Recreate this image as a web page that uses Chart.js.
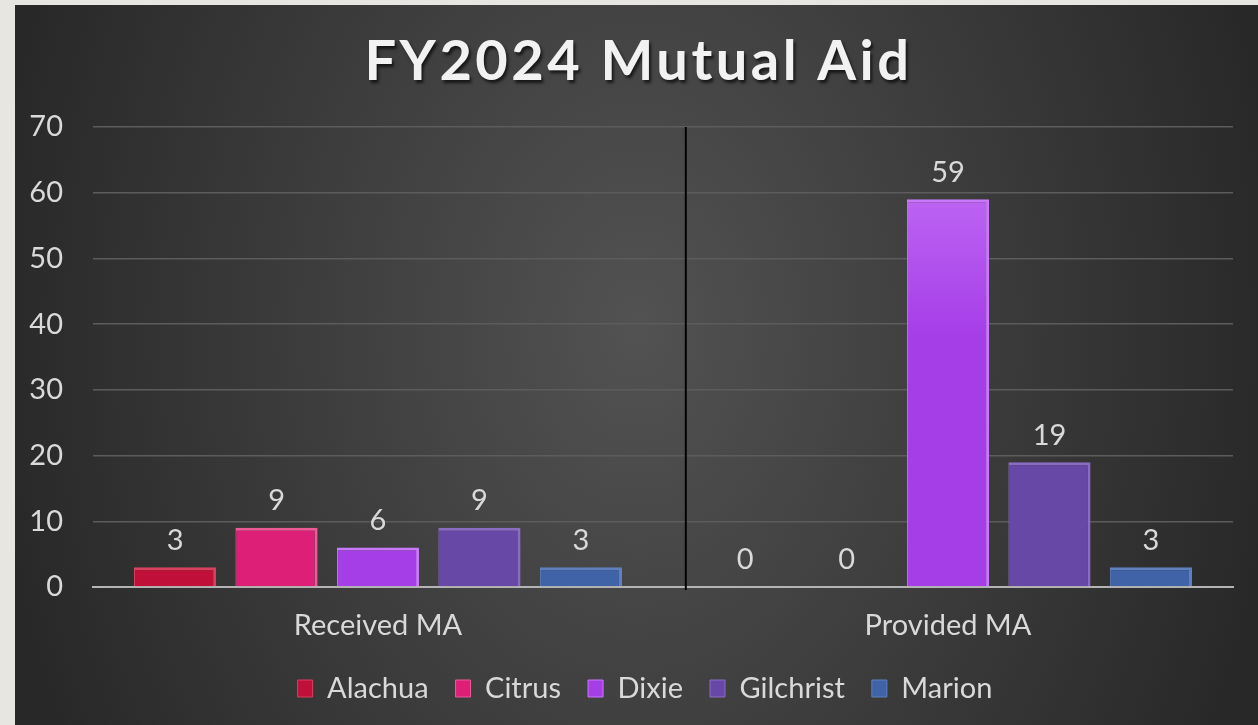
<!DOCTYPE html>
<html>
<head>
<meta charset="utf-8">
<script src="https://cdn.jsdelivr.net/npm/chart.js@4"></script>
<style>
    html, body { margin: 0; padding: 0; background: #e8e6e1; }
    #frame {
        position: absolute; left: 15px; top: 5px; width: 1243px; height: 720px;
        background: radial-gradient(650px 900px at 50% 45%, #525252 0%, #282828 100%);
    }
    #frame canvas { display: block; }
</style>
</head>
<body>
<div id="frame"><canvas id="maChart" width="1243" height="720"></canvas></div>
<script>
const chartTitle = 'FY2024 Mutual Aid';
const categories = ['Received MA', 'Provided MA'];
const counties = ['Alachua', 'Citrus', 'Dixie', 'Gilchrist', 'Marion'];
const alachua = [3, 0];
const citrus = [9, 0];
const dixie = [6, 59];
const gilchrist = [9, 19];
const marion = [3, 3];
const yTicks = [0, 10, 20, 30, 40, 50, 60, 70];

const seriesValues = [alachua, citrus, dixie, gilchrist, marion];
// main colour, highlight colour
const palette = [
    ['#c0103a', '#d8405e'],
    ['#de1f78', '#ec5a98'],
    ['#a63ee8', '#c878f8'],
    ['#6848a6', '#8a6cc4'],
    ['#4062a6', '#5f80c0']
];
const DIVIDER_AT = 0.54; // in category units, between the two groups
const LEGEND_SHIFT = 21; // legend sits a little right of centre

const textColor = '#d9d9d9';
const fontFamily = 'Lato, "Open Sans", sans-serif';
const fontSize = 29;

const barFill = (i) => (ctx) => {
    const area = ctx.chart.chartArea;
    if (!area) return palette[i][0];
    const g = ctx.chart.ctx.createLinearGradient(0, area.top, 0, area.bottom);
    g.addColorStop(0, palette[i][1]);
    g.addColorStop(0.45, palette[i][0]);
    g.addColorStop(1, palette[i][0]);
    return g;
};

const titlePlugin = {
    id: 'fancyTitle',
    afterDraw(chart) {
        const c = chart.ctx;
        c.save();
        c.font = 'bold 56px ' + fontFamily;
        c.letterSpacing = '3.5px';
        c.textAlign = 'center';
        c.textBaseline = 'alphabetic';
        c.shadowColor = 'rgba(0,0,0,0.65)';
        c.shadowOffsetX = 2;
        c.shadowOffsetY = 3;
        c.shadowBlur = 3;
        c.fillStyle = '#f2f2f2';
        c.fillText(chartTitle, chart.width / 2 + 2, chart.chartArea.top - 47);
        c.restore();
    }
};

const legendNudge = {
    id: 'legendNudge',
    afterLayout(chart) {
        if (chart.legend) {
            chart.legend.left += LEGEND_SHIFT;
            chart.legend.right += LEGEND_SHIFT;
        }
    }
};

const dividerPlugin = {
    id: 'divider',
    beforeDatasetsDraw(chart) {
        const x = chart.scales.x;
        const px = x.getPixelForValue(DIVIDER_AT);
        const c = chart.ctx;
        c.save();
        c.strokeStyle = '#000000';
        c.lineWidth = 2;
        c.beginPath();
        c.moveTo(px, chart.chartArea.top);
        c.lineTo(px, chart.chartArea.bottom + 3);
        c.stroke();
        c.restore();
    }
};

const valueLabels = {
    id: 'valueLabels',
    afterDatasetsDraw(chart) {
        const c = chart.ctx;
        c.save();
        c.font = fontSize + 'px ' + fontFamily;
        c.fillStyle = textColor;
        c.textAlign = 'center';
        c.textBaseline = 'middle';
        chart.data.datasets.forEach((ds, di) => {
            chart.getDatasetMeta(di).data.forEach((bar, i) => {
                c.fillText(String(ds.data[i]), bar.x, bar.y - 27);
            });
        });
        c.restore();
    }
};

const datasets = counties.map((name, i) => ({
    label: name,
    data: seriesValues[i],
    backgroundColor: barFill(i),
    borderColor: palette[i][1],
    borderWidth: { top: 3, right: 3, left: 1, bottom: 0 },
    borderSkipped: false,
    categoryPercentage: 0.89,
    barPercentage: 0.81
}));

new Chart(document.getElementById('maChart'), {
    type: 'bar',
    data: { labels: categories, datasets: datasets },
    options: {
        responsive: false,
        animation: false,
        layout: { padding: { top: 122, right: 25, left: 0, bottom: 12 } },
        scales: {
            x: {
                grid: { display: false, drawTicks: false },
                border: { display: true, color: '#b4b4b4', width: 2 },
                ticks: { color: textColor, font: { family: fontFamily, size: fontSize }, padding: 21 },
                afterFit: (s) => { s.height = 60; }
            },
            y: {
                min: 0, max: 70,
                afterBuildTicks: (s) => { s.ticks = yTicks.map(v => ({ value: v })); },
                grid: { color: '#5c5c5c', lineWidth: 1.5, drawTicks: false },
                border: { display: false },
                ticks: { color: textColor, font: { family: fontFamily, size: fontSize }, padding: 30 },
                afterFit: (s) => { s.width = 78; }
            }
        },
        plugins: {
            title: { display: false },
            tooltip: { enabled: false },
            legend: {
                position: 'bottom',
                labels: {
                    color: textColor,
                    font: { family: fontFamily, size: fontSize },
                    boxWidth: 15,
                    boxHeight: 17,
                    padding: 27,
                    generateLabels: (chart) => counties.map((name, i) => ({
                        text: name,
                        fillStyle: palette[i][0],
                        strokeStyle: palette[i][1],
                        lineWidth: 1,
                        fontColor: textColor,
                        datasetIndex: i
                    }))
                }
            }
        }
    },
    plugins: [titlePlugin, legendNudge, dividerPlugin, valueLabels]
});
</script>
</body>
</html>
